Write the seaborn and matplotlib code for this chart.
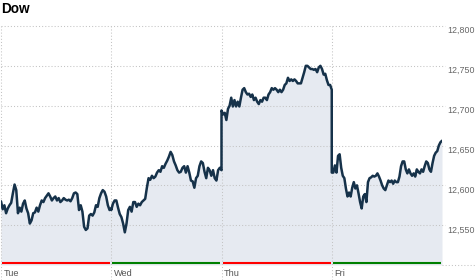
import numpy as np
import pandas as pd
import matplotlib
matplotlib.use("Agg")
import matplotlib.pyplot as plt
import matplotlib.transforms as mtransforms
import seaborn as sns

# ---- data (Dow index) ----
days = ["Tue", "Wed", "Thu", "Fri"]
day_colors = ["#ff0000", "#008000", "#ff0000", "#008000"]
yticks = [12550, 12600, 12650, 12700, 12750, 12800]
ytick_labels = ["12,550", "12,600", "12,650", "12,700", "12,750", "12,800"]

tue = [12580, 12570, 12575, 12565, 12571, 12575, 12578, 12590, 12601, 12594,
       12565, 12572, 12567, 12577, 12581, 12571, 12565,
       12552, 12556, 12565, 12566, 12572, 12567, 12575, 12581, 12579, 12584,
       12587, 12590, 12586, 12581, 12584, 12586, 12581, 12584, 12579, 12581,
       12584, 12582, 12581, 12582, 12580, 12584, 12590, 12591,
       12589, 12569, 12575, 12567, 12548, 12544, 12546, 12562, 12564, 12562,
       12566, 12575, 12573, 12584, 12590, 12594, 12592, 12586, 12575, 12569,
       12571]
wed = [12569, 12577, 12581, 12581, 12572, 12564, 12560, 12552, 12541, 12552,
       12569, 12573, 12567, 12579, 12579, 12573, 12577, 12575, 12579, 12581,
       12583, 12597, 12609, 12607, 12612, 12609, 12611, 12616, 12619, 12617,
       12624, 12622, 12627, 12631, 12636, 12642, 12638, 12630, 12625, 12619,
       12616, 12617, 12622, 12624, 12616, 12624, 12616, 12606, 12605, 12597,
       12609, 12612, 12624, 12630, 12628, 12617, 12609, 12622, 12619, 12612,
       12619, 12609, 12606, 12619, 12622, 12619]
thu = [12694, 12689, 12691, 12682, 12696, 12700, 12710, 12699, 12707, 12699,
       12705, 12699, 12710, 12720, 12722, 12717, 12714, 12715, 12711, 12714,
       12707, 12710, 12705, 12702, 12707, 12705, 12710, 12710, 12707, 12714,
       12717, 12722, 12720, 12722, 12720, 12717, 12720, 12717, 12720, 12726,
       12728, 12735, 12731, 12733, 12731, 12733, 12731, 12728, 12728, 12728,
       12735, 12742, 12750, 12750, 12748, 12746, 12746, 12745, 12746, 12742,
       12748, 12750, 12746, 12739, 12740, 12732, 12726, 12726, 12720]
fri = [12616, 12616, 12625, 12616, 12637, 12639, 12622, 12612, 12609, 12596,
       12586, 12591, 12586, 12597, 12604, 12596, 12600, 12590, 12579, 12571,
       12586, 12589, 12579, 12604, 12609, 12610, 12612, 12611, 12612, 12615,
       12611, 12606, 12600, 12596, 12594, 12600, 12606, 12604, 12606, 12602,
       12606, 12604, 12604, 12611, 12624, 12630, 12630, 12620, 12615, 12620,
       12615, 12612, 12615, 12611, 12620, 12617, 12615, 12620, 12617, 12624,
       12630, 12628, 12620, 12617, 12628, 12637, 12641, 12643, 12650, 12654,
       12656]

series = [tue, wed, thu, fri]
frames = []
for i, vals in enumerate(series):
    frames.append(pd.DataFrame({"x": i + np.linspace(0, 1, len(vals)),
                                "value": vals}))
df = pd.concat(frames, ignore_index=True)

# ---- figure ----
sns.set_style("white")
plt.rcParams["font.family"] = ["Liberation Sans", "DejaVu Sans"]

W, H = 475, 280
fig = plt.figure(figsize=(W / 100, H / 100), dpi=100)
ax_left, ax_right, ax_top, ax_bot = 1, 442, 26, 265
ax = fig.add_axes([ax_left / W, 1 - ax_bot / H,
                   (ax_right - ax_left) / W, (ax_bot - ax_top) / H])
ymin, ymax = 12500, 12800
ax.set_xlim(0, 4)
ax.set_ylim(ymin, ymax)
ax.axis("off")

grid_kw = dict(color="#c4c4c4", lw=0.75, linestyle=(0, (1, 2)))

# fill
ax.fill_between(df["x"], df["value"], ymin, color="#e6eaf1", lw=0, zorder=1)

# horizontal gridlines (extend past the plot to the labels)
axw = ax_right - ax_left
for yv in yticks:
    ax.axhline(yv, xmin=0, xmax=(445 - ax_left) / axw, clip_on=False,
               zorder=2, **grid_kw)
ax.axhline(ymin, xmin=(ax_right - ax_left) / axw, xmax=(W - ax_left) / axw,
           clip_on=False, zorder=2, **grid_kw)

# vertical day separators
vtrans = mtransforms.blended_transform_factory(ax.transData, fig.transFigure)
for i in range(4):
    ax.plot([i, i], [0, 1 - ax_top / H], transform=vtrans, clip_on=False,
            zorder=2, **grid_kw)

# line
sns.lineplot(data=df, x="x", y="value", ax=ax, estimator=None, sort=False,
             color="#16324a", lw=1.8, zorder=4)
ax.axis("off")

# colored day bars
btrans = mtransforms.blended_transform_factory(ax.transData, ax.transAxes)
gap = 1.0 / 110
for i, c in enumerate(day_colors):
    ax.plot([i + gap, i + 1 - gap], [1.6 / (ax_bot - ax_top)] * 2,
            transform=btrans, color=c, lw=1.5, solid_capstyle="butt",
            clip_on=False, zorder=5)

# y labels on the right
ltrans = mtransforms.blended_transform_factory(fig.transFigure, ax.transData)
for yv, lab in zip(yticks, ytick_labels):
    ax.text(447 / W, yv - 6.0, lab, transform=ltrans, ha="left", va="center",
            fontsize=6.4, color="#666666")

# day labels
for i, d in enumerate(days):
    ax.text(i + 2.5 / 110, 1 - 273.5 / H, d, transform=vtrans, ha="left",
            va="center", fontsize=6.6, color="#555555")

# title
fig.text(1.5 / W, 1 - 2 / H, "Dow", ha="left", va="top", fontsize=9.8,
         fontweight="bold", color="#000000")

fig.savefig("out.png", dpi=100)
